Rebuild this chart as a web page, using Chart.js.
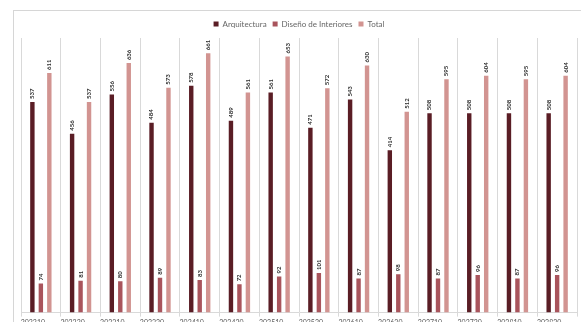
<!DOCTYPE html>
<html>
<head>
<meta charset="utf-8">
<script src="https://cdn.jsdelivr.net/npm/chart.js@4.4.1/dist/chart.umd.min.js"></script>
<style>
  html, body { margin: 0; padding: 0; background: #fff; overflow: hidden; }
  body { width: 581px; height: 322px; position: relative; }
  .frame {
    position: absolute; left: 13px; top: 10px; width: 600px; height: 330px;
    border-top: 1px solid #d6d6d6; border-left: 1px solid #d6d6d6;
  }
  .wrap { position: absolute; left: 0; top: 0; width: 581px; height: 329px; }
</style>
</head>
<body>
<div class="frame"></div>
<div class="wrap"><canvas id="chart"></canvas></div>
<script>
// periodos
const labels = ['202210', '202220', '202310', '202320', '202410', '202420', '202510',
                '202520', '202610', '202620', '202710', '202720', '202810', '202820'];
const arquitectura = [537, 456, 556, 484, 578, 489, 561, 471, 543, 414, 508, 508, 508, 508];
const disenio      = [74, 81, 80, 89, 83, 72, 92, 101, 87, 98, 87, 96, 87, 96];
const total        = [611, 537, 636, 573, 661, 561, 653, 572, 630, 512, 595, 604, 595, 604];

// rotated value labels above each bar
const barValues = {
    id: 'barValues',
    afterDatasetsDraw(chart) {
        const ctx = chart.ctx;
        ctx.save();
        ctx.font = 'bold 6px Lato, sans-serif';
        ctx.fillStyle = '#2b2b2b';
        ctx.textAlign = 'left';
        ctx.textBaseline = 'middle';
        chart.data.datasets.forEach((ds, i) => {
            chart.getDatasetMeta(i).data.forEach((bar, j) => {
                ctx.save();
                ctx.translate(bar.x, bar.y - 3);
                ctx.rotate(-Math.PI / 2);
                ctx.fillText(String(ds.data[j]), 0, 0);
                ctx.restore();
            });
        });
        ctx.restore();
    }
};

new Chart(document.getElementById('chart'), {
    type: 'bar',
    data: {
        labels: labels,
        datasets: [
            { label: 'Arquitectura', data: arquitectura, backgroundColor: '#5a1d25' },
            { label: 'Diseño de Interiores', data: disenio, backgroundColor: '#a9545c' },
            { label: 'Total', data: total, backgroundColor: '#d29491' }
        ]
    },
    options: {
        responsive: true,
        maintainAspectRatio: false,
        animation: false,
        datasets: { bar: { categoryPercentage: 0.64, barPercentage: 0.52 } },
        layout: { padding: { left: 21, right: 4, top: 14, bottom: 0 } },
        plugins: {
            legend: {
                position: 'top',
                labels: {
                    boxWidth: 5, boxHeight: 5, padding: 6,
                    color: '#666666',
                    font: { family: 'Lato, sans-serif', size: 8 }
                }
            },
            tooltip: { enabled: false }
        },
        scales: {
            x: {
                grid: { color: '#d9d9d9', tickLength: 4 },
                border: { color: '#d9d9d9' },
                ticks: {
                    color: '#595959', maxRotation: 0, autoSkip: false,
                    labelOffset: -8, padding: 2,
                    font: { family: 'Lato, sans-serif', size: 7 }
                }
            },
            y: { display: false, min: 0, max: 700 }
        }
    },
    plugins: [barValues]
});
</script>
</body>
</html>
